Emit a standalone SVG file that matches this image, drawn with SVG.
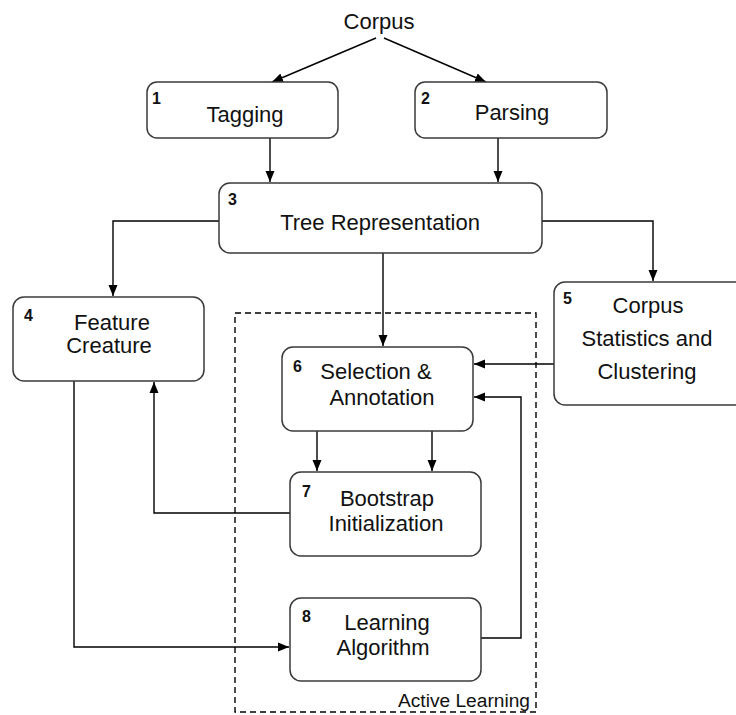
<svg xmlns="http://www.w3.org/2000/svg" width="736" height="715" viewBox="0 0 736 715">
<style>
  .box { fill: #ffffff; stroke: #3a3a3a; stroke-width: 1.5; }
  .t { font-family: "Liberation Sans", Arial, Helvetica, sans-serif; font-size: 22px; fill: #111; text-anchor: middle; }
  .n { font-family: "Liberation Sans", Arial, Helvetica, sans-serif; font-size: 16px; font-weight: bold; fill: #111; }
  .c { fill: none; stroke: #000; stroke-width: 1.4; }
  .dash { fill: none; stroke: #000; stroke-width: 1.4; stroke-dasharray: 6 4; }
  .al { font-family: "Liberation Sans", Arial, Helvetica, sans-serif; font-size: 18px; fill: #111; text-anchor: end; }
</style>
<defs>
  <marker id="ah" viewBox="0 0 11 10" refX="11" refY="5" markerWidth="11" markerHeight="10" markerUnits="userSpaceOnUse" orient="auto">
    <path d="M0,0.5 L11,5 L0,9.5 Z" fill="#000"/>
  </marker>
</defs>

<g id="group-active-learning">
  <rect class="dash" x="235" y="313" width="301" height="399"/>
  <text class="al" x="530" y="707" textLength="132" lengthAdjust="spacingAndGlyphs">Active Learning</text>
</g>

<g id="connectors">
  <line class="c" x1="376" y1="38" x2="272" y2="82" marker-end="url(#ah)"/>
  <line class="c" x1="384" y1="38" x2="486" y2="82" marker-end="url(#ah)"/>
  <line class="c" x1="270" y1="138" x2="270" y2="182" marker-end="url(#ah)"/>
  <line class="c" x1="498" y1="138" x2="498" y2="182" marker-end="url(#ah)"/>
  <path class="c" d="M219,221 H113 V296" marker-end="url(#ah)"/>
  <path class="c" d="M542,221 H653 V281" marker-end="url(#ah)"/>
  <path class="c" d="M383,253 V346" marker-end="url(#ah)"/>
  <path class="c" d="M554,364 H474" marker-end="url(#ah)"/>
  <path class="c" d="M317,431 V471" marker-end="url(#ah)"/>
  <path class="c" d="M432,431 V471" marker-end="url(#ah)"/>
  <path class="c" d="M290,513 H154 V382" marker-end="url(#ah)"/>
  <path class="c" d="M74,381 V647 H289" marker-end="url(#ah)"/>
  <path class="c" d="M481,638 H521 V397 H474" marker-end="url(#ah)"/>
</g>

<g id="corpus">
  <text class="t" x="379" y="29">Corpus</text>
</g>

<g id="node-1">
  <rect class="box" x="147" y="82" width="191" height="56" rx="10"/>
  <text class="n" x="152" y="104">1</text>
  <text class="t" x="245" y="122">Tagging</text>
</g>

<g id="node-2">
  <rect class="box" x="415" y="82" width="192" height="56" rx="10"/>
  <text class="n" x="421" y="104">2</text>
  <text class="t" x="512" y="120">Parsing</text>
</g>

<g id="node-3">
  <rect class="box" x="219" y="183" width="323" height="70" rx="11"/>
  <text class="n" x="228" y="205">3</text>
  <text class="t" x="380" y="230">Tree Representation</text>
</g>

<g id="node-4">
  <rect class="box" x="13" y="297" width="191" height="84" rx="11"/>
  <text class="n" x="24" y="321">4</text>
  <text class="t" x="112" y="330">Feature</text>
  <text class="t" x="109" y="353">Creature</text>
</g>

<g id="node-5">
  <rect class="box" x="554" y="282" width="200" height="123" rx="11"/>
  <text class="n" x="563" y="304">5</text>
  <text class="t" x="648" y="313">Corpus</text>
  <text class="t" x="647" y="346">Statistics and</text>
  <text class="t" x="647" y="379">Clustering</text>
</g>

<g id="node-6">
  <rect class="box" x="282" y="347" width="191" height="84" rx="11"/>
  <text class="n" x="293" y="372">6</text>
  <text class="t" x="376" y="379">Selection &amp;</text>
  <text class="t" x="382" y="405">Annotation</text>
</g>

<g id="node-7">
  <rect class="box" x="290" y="472" width="191" height="84" rx="11"/>
  <text class="n" x="302" y="497">7</text>
  <text class="t" x="387" y="506">Bootstrap</text>
  <text class="t" x="386" y="531">Initialization</text>
</g>

<g id="node-8">
  <rect class="box" x="290" y="598" width="191" height="83" rx="11"/>
  <text class="n" x="302" y="622">8</text>
  <text class="t" x="387" y="630">Learning</text>
  <text class="t" x="383" y="655">Algorithm</text>
</g>
</svg>
